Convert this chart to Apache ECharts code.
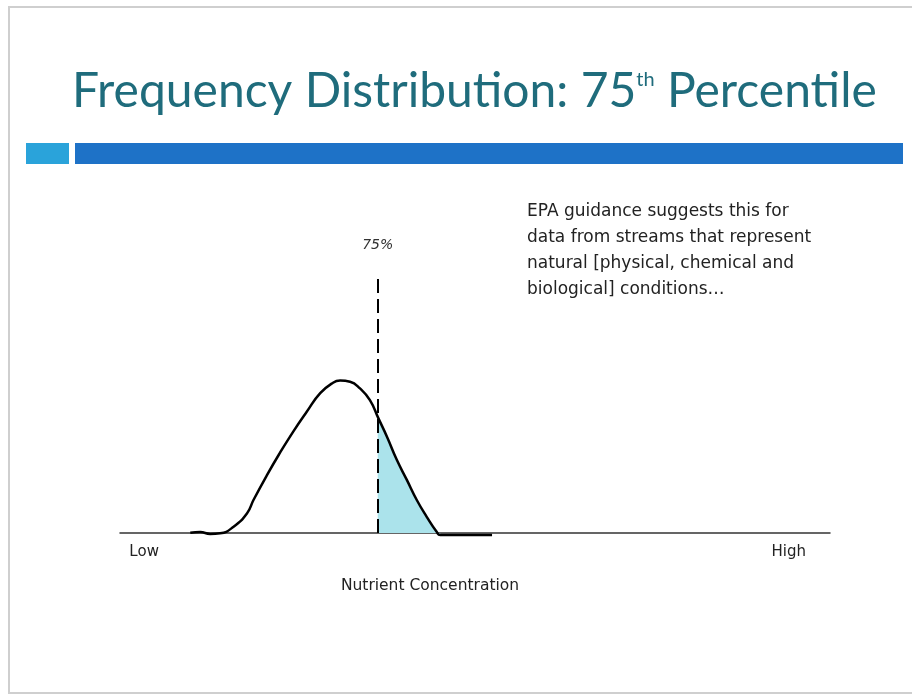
<!DOCTYPE html>
<html>
<head>
<meta charset="utf-8">
<script src="https://cdn.jsdelivr.net/npm/echarts@6/dist/echarts.min.js"></script>
<style>
  html, body { margin: 0; padding: 0; background: #fff; }
  #main { width: 912px; height: 695px; }
</style>
</head>
<body>
<div id="main"></div>
<script>
// curve (x: low..high concentration 0-100, y: relative frequency)
var curveX = [9.9, 11.3, 12.7, 14.1, 16.0, 17.9, 18.8, 20.7, 22.5, 24.4, 26.3, 28.2, 30.0, 31.0, 32.4, 33.8, 35.2, 36.4, 37.6, 39.0, 40.4, 41.8, 43.2, 44.6, 45.1, 52.4];
var curveY = [0.1, 0.3, -0.3, -0.1, 2.1, 6.6, 11, 19.3, 26.6, 33.8, 40.4, 46.6, 50.1, 50.8, 50.4, 48.2, 44.3, 38.2, 32.1, 24.3, 17.7, 11, 5.4, 0.4, -0.7, -0.7];
var percentileX = 36.3;
var percentileTop = 85;
var percentileLabel = '75%';
var tickValues = [3.4, 94.2];
var tickLabels = ['Low', 'High'];
var axisTitle = 'Nutrient Concentration';
var noteLines = [
  'EPA guidance suggests this for',
  'data from streams that represent',
  'natural [physical, chemical and',
  'biological] conditions…'
];

var curve = curveX.map(function (x, i) { return [x, curveY[i]]; });
// upper tail beyond the 75th percentile, shaded
var tail = [[percentileX, 38.5]].concat(curve.filter(function (p) { return p[0] > percentileX && p[0] <= 45.1; }));

var chart = echarts.init(document.getElementById('main'));
var option = {
  backgroundColor: '#fff',
  animation: false,
  grid: { left: 120, width: 710, top: 233, height: 300 },
  xAxis: {
    type: 'value',
    min: 0,
    max: 100,
    splitLine: { show: false },
    axisTick: { show: false },
    axisLine: { lineStyle: { color: '#333', width: 1.5 } },
    axisLabel: {
      customValues: tickValues,
      formatter: function (v) { return tickLabels[tickValues.indexOf(v)] || ''; },
      color: '#222',
      fontFamily: 'DejaVu Sans',
      fontSize: 15,
      margin: 12
    }
  },
  yAxis: {
    type: 'value',
    min: 0,
    max: 100,
    show: false
  },
  series: [
    {
      type: 'line',
      data: tail,
      smooth: 0.5,
      clip: false,
      showSymbol: false,
      lineStyle: { width: 0 },
      areaStyle: { color: '#abe3eb', opacity: 1 },
      z: 1
    },
    {
      type: 'line',
      data: curve,
      smooth: 0.5,
      clip: false,
      showSymbol: false,
      lineStyle: { color: '#000', width: 2.5 },
      z: 3,
      markLine: {
        silent: true,
        symbol: 'none',
        lineStyle: { color: '#000', width: 2, type: [14, 6] },
        label: {
          show: true,
          position: 'end',
          formatter: percentileLabel,
          distance: 26,
          color: '#333',
          fontStyle: 'italic',
          fontFamily: 'DejaVu Sans',
          fontSize: 14
        },
        data: [[
          { coord: [percentileX, 0] },
          { coord: [percentileX, percentileTop] }
        ]]
      }
    }
  ],
  graphic: [
    { type: 'rect', shape: { x: 9, y: 7, width: 930, height: 686 }, style: { fill: 'none', stroke: '#cfcfcf', lineWidth: 2 } },
    {
      type: 'text', left: 72, top: 62,
      style: {
        text: '{a|Frequency Distribution: 75}{b|th}{a| Percentile}',
        rich: {
          a: { fontFamily: 'Lato', fontSize: 48, fill: '#1f6c7c', lineHeight: 54, verticalAlign: 'bottom' },
          b: { fontFamily: 'Lato', fontSize: 20, fill: '#1f6c7c', lineHeight: 54, verticalAlign: 'top', padding: [8, 0, 0, 0] }
        }
      }
    },
    { type: 'rect', shape: { x: 26, y: 143, width: 43, height: 21 }, style: { fill: '#2aa3da' } },
    { type: 'rect', shape: { x: 75, y: 143, width: 828, height: 21 }, style: { fill: '#1e72c7' } },
    {
      type: 'text', left: 527, top: 199,
      style: {
        text: noteLines.join('\n'),
        fontFamily: 'DejaVu Sans',
        fontSize: 17,
        lineHeight: 26,
        fill: '#222'
      }
    },
    {
      type: 'text', x: 430, y: 586,
      style: {
        text: axisTitle,
        fontFamily: 'DejaVu Sans',
        fontSize: 15.5,
        fill: '#222',
        align: 'center',
        verticalAlign: 'middle'
      }
    }
  ]
};
chart.setOption(option);
</script>
</body>
</html>
